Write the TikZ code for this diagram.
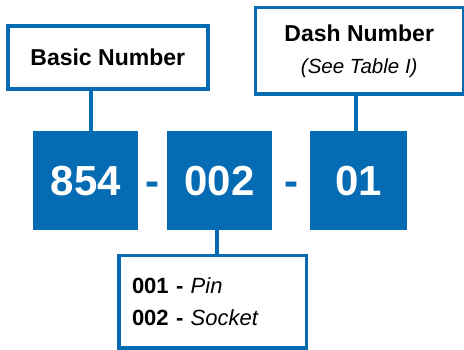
\documentclass[tikz,border=0pt]{standalone}
\usepackage{fontspec}
\setmainfont{Liberation Sans}
\usetikzlibrary{calc}

\begin{document}
\begin{tikzpicture}[x=1pt,y=1pt,
  labelbox/.style={draw=partblue,line width=3.5pt,fill=white,inner sep=0pt},
  numblock/.style={fill=partblue,text=white,inner sep=0pt,minimum height=99pt,
    font=\fontsize{42}{50}\selectfont\bfseries},
  separator/.style={anchor=base,text=partblue,inner sep=0pt,
    font=\fontsize{42}{50}\selectfont\bfseries},
  leader/.style={draw=partblue,line width=4pt}]
  \definecolor{partblue}{RGB}{5,108,180}
  \useasboundingbox (0,0) rectangle (464,350);
  % part number blocks
  \node[numblock,minimum width=105pt] (basicnum) at (85.75,169.25) {854};
  \node[numblock,minimum width=105pt] (typenum)  at (219.5,169.25) {002};
  \node[numblock,minimum width=97pt]  (dashnum)  at (358.5,169.25) {01};
  \node[separator] (sepa) at ($(basicnum.base east)!0.5!(typenum.base west)$) {-};
  \node[separator] (sepb) at ($(typenum.base east)!0.5!(dashnum.base west)$) {-};
  % callout boxes
  \node[labelbox,minimum width=200pt,minimum height=63pt,
    font=\fontsize{23}{28}\selectfont\bfseries] (basicbox) at (107.75,292.25) {Basic Number};
  \node[labelbox,minimum width=208pt,minimum height=86.5pt,align=center,
    font=\fontsize{23}{32}\selectfont] (dashbox) at (359.25,299)
    {\bfseries Dash Number\\{\fontsize{20.5}{32}\selectfont\itshape (See Table I)}};
  \node[labelbox,minimum height=92.5pt,text width=161pt,inner xsep=13.25pt,align=left,
    font=\fontsize{22}{32}\selectfont] (typebox) at (212.5,48)
    {\textbf{001 -} \textit{Pin}\\\textbf{002 -} \textit{Socket}};
  % leaders
  \coordinate (basictap) at ([xshift=-17.25pt]basicbox.south);
  \coordinate (dashtap)  at ([xshift=-3pt]dashnum.north);
  \coordinate (typetap)  at ([xshift=-3pt]typenum.south);
  \draw[leader] (basictap) -- (basictap |- basicnum.north);
  \draw[leader] (dashtap) -- (dashtap |- dashbox.south);
  \draw[leader] (typetap) -- (typetap |- typebox.north);
\end{tikzpicture}
\end{document}
